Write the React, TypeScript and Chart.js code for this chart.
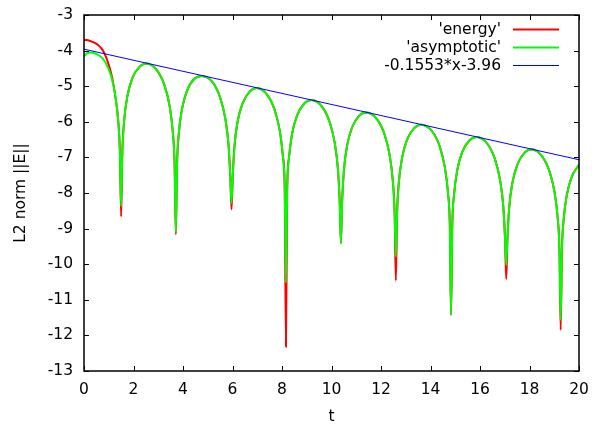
import React, { useEffect, useRef } from 'react';
import { Chart, registerables } from 'chart.js';

Chart.register(...registerables);

// time values (shared by both curves)
const tValues = [
  0, 0.12, 0.25, 0.45, 0.6, 0.75, 0.9, 1.05, 1.15, 1.25, 1.38, 1.45, 1.5,
  1.55, 1.62, 1.75, 1.95, 2.25, 2.525, 2.96, 3.26, 3.46, 3.59, 3.66, 3.71,
  3.76, 3.83, 3.96, 4.16, 4.46, 4.755, 5.21, 5.51, 5.71, 5.84, 5.91, 5.96,
  6.01, 6.08, 6.21, 6.41, 6.71, 6.98, 7.41, 7.71, 7.91, 8.04, 8.11, 8.16,
  8.21, 8.28, 8.41, 8.61, 8.91, 9.19, 9.63, 9.93, 10.13, 10.26, 10.33, 10.38,
  10.43, 10.5, 10.63, 10.83, 11.13, 11.41, 11.85, 12.15, 12.35, 12.48, 12.55, 12.6,
  12.65, 12.72, 12.85, 13.05, 13.35, 13.635, 14.08, 14.38, 14.58, 14.71, 14.78, 14.83,
  14.88, 14.95, 15.08, 15.28, 15.58, 15.865, 16.31, 16.61, 16.81, 16.94, 17.01, 17.06,
  17.11, 17.18, 17.31, 17.51, 17.81, 18.08, 18.51, 18.81, 19.01, 19.14, 19.21, 19.26,
  19.31, 19.38, 19.51, 19.71, 20,
];

// 'asymptotic' series
const asymptotic = [
  -4.16, -4.08, -4.05, -4.08, -4.13, -4.22, -4.38, -4.62, -4.86, -5.21, -5.95, -6.83, -8.37,
  -6.85, -5.99, -5.29, -4.78, -4.45, -4.36, -4.56, -4.99, -5.56, -6.30, -7.18, -9.10,
  -7.19, -6.33, -5.64, -5.13, -4.79, -4.71, -4.90, -5.34, -5.91, -6.65, -7.53, -8.28,
  -7.54, -6.68, -5.98, -5.48, -5.14, -5.05, -5.25, -5.68, -6.25, -6.99, -7.87, -10.52,
  -7.88, -7.02, -6.33, -5.82, -5.48, -5.39, -5.59, -6.02, -6.59, -7.33, -8.21, -9.41,
  -8.23, -7.37, -6.67, -6.16, -5.82, -5.74, -5.94, -6.37, -6.94, -7.68, -8.56, -9.79,
  -8.57, -7.71, -7.02, -6.51, -6.17, -6.08, -6.28, -6.71, -7.28, -8.02, -8.90, -11.43,
  -8.92, -8.06, -7.36, -6.85, -6.52, -6.43, -6.63, -7.06, -7.63, -8.37, -9.25, -10.02,
  -9.27, -8.41, -7.71, -7.20, -6.86, -6.77, -6.97, -7.40, -7.97, -8.71, -9.59, -11.57,
  -9.61, -8.75, -8.05, -7.54, -7.21,
];

// 'energy' series
const energy = [
  -3.70, -3.70, -3.73, -3.79, -3.86, -3.98, -4.20, -4.52, -4.80, -5.21, -5.95, -6.83, -8.66,
  -6.85, -5.99, -5.29, -4.78, -4.45, -4.36, -4.56, -4.99, -5.56, -6.30, -7.18, -9.16,
  -7.19, -6.33, -5.64, -5.13, -4.79, -4.71, -4.90, -5.34, -5.91, -6.65, -7.53, -8.46,
  -7.54, -6.68, -5.98, -5.48, -5.14, -5.05, -5.25, -5.68, -6.25, -6.99, -7.87, -12.32,
  -7.88, -7.02, -6.33, -5.82, -5.48, -5.39, -5.59, -6.02, -6.59, -7.33, -8.21, -9.41,
  -8.23, -7.37, -6.67, -6.16, -5.82, -5.74, -5.94, -6.37, -6.94, -7.68, -8.56, -10.46,
  -8.57, -7.71, -7.02, -6.51, -6.17, -6.08, -6.28, -6.71, -7.28, -8.02, -8.90, -11.43,
  -8.92, -8.06, -7.36, -6.85, -6.52, -6.43, -6.63, -7.06, -7.63, -8.37, -9.25, -10.42,
  -9.27, -8.41, -7.71, -7.20, -6.86, -6.77, -6.97, -7.40, -7.97, -8.71, -9.59, -11.85,
  -9.61, -8.75, -8.05, -7.54, -7.21,
];

// fitted line -0.1553*x-3.96
const fitX = [0, 20];
const fitY = [-3.96, -7.066];

const xTicks = [0, 2, 4, 6, 8, 10, 12, 14, 16, 18, 20];
const yTicks = [-3, -4, -5, -6, -7, -8, -9, -10, -11, -12, -13];

const legendLabels = ["'energy'", "'asymptotic'", '-0.1553*x-3.96'];
const legendColors = ['#ff0000', '#00ff00', '#0000ff'];
const legendWidths = [2, 2, 1];
const xTitle = 't';
const yTitle = 'L2 norm ||E||';

const FONT = '"DejaVu Sans", sans-serif';
const FS = 15.5;

const framePlugin = {
  id: 'gnuFrame',
  afterDraw(chart: any) {
    const { ctx, chartArea } = chart;
    const xs = chart.scales.x;
    const ys = chart.scales.y;
    const { left, right, top, bottom } = chartArea;
    ctx.save();
    ctx.strokeStyle = '#000';
    ctx.lineWidth = 1.5;
    ctx.strokeRect(left, top, right - left, bottom - top);
    ctx.lineWidth = 1;
    const tl = 5;
    ctx.beginPath();
    xTicks.forEach((v) => {
      const px = Math.round(xs.getPixelForValue(v)) + 0.5;
      ctx.moveTo(px, bottom);
      ctx.lineTo(px, bottom - tl);
      ctx.moveTo(px, top);
      ctx.lineTo(px, top + tl);
    });
    yTicks.forEach((v) => {
      const py = Math.round(ys.getPixelForValue(v)) + 0.5;
      ctx.moveTo(left, py);
      ctx.lineTo(left + tl, py);
      ctx.moveTo(right, py);
      ctx.lineTo(right - tl, py);
    });
    ctx.stroke();

    // legend
    ctx.font = `${FS}px ${FONT}`;
    ctx.fillStyle = '#000';
    ctx.textAlign = 'right';
    ctx.textBaseline = 'alphabetic';
    const rowY = [29.5, 47.5, 65.5];
    legendLabels.forEach((lab, i) => {
      ctx.fillText(lab, 501, rowY[i] + 4.5);
      ctx.strokeStyle = legendColors[i];
      ctx.lineWidth = legendWidths[i];
      ctx.beginPath();
      ctx.moveTo(513, rowY[i]);
      ctx.lineTo(559, rowY[i]);
      ctx.stroke();
    });

    // axis titles
    ctx.fillStyle = '#000';
    ctx.textAlign = 'center';
    ctx.fillText(xTitle, (left + right) / 2, 421);
    ctx.translate(25, (top + bottom) / 2);
    ctx.rotate(-Math.PI / 2);
    ctx.fillText(yTitle, 0, 0);
    ctx.restore();
  },
};

const zeroPad = (s: any) => {
  s.paddingTop = 0;
  s.paddingBottom = 0;
  s.paddingLeft = 0;
  s.paddingRight = 0;
};

export default function App() {
  const ref = useRef<HTMLCanvasElement | null>(null);
  useEffect(() => {
    if (!ref.current) return;
    const chart = new Chart(ref.current, {
      type: 'scatter',
      data: {
        datasets: [
          {
            label: legendLabels[2],
            data: fitX.map((x, i) => ({ x, y: fitY[i] })),
            borderColor: '#0000ff',
            borderWidth: 1,
            showLine: true,
            pointRadius: 0,
            order: 1,
          },
          {
            label: legendLabels[1],
            data: tValues.map((x, i) => ({ x, y: asymptotic[i] })),
            borderColor: '#00ff00',
            borderWidth: 2,
            showLine: true,
            pointRadius: 0,
            cubicInterpolationMode: 'monotone',
            order: 2,
          },
          {
            label: legendLabels[0],
            data: tValues.map((x, i) => ({ x, y: energy[i] })),
            borderColor: '#ff0000',
            borderWidth: 2,
            showLine: true,
            pointRadius: 0,
            cubicInterpolationMode: 'monotone',
            order: 3,
          },
        ],
      },
      options: {
        responsive: false,
        animation: false,
        devicePixelRatio: 1,
        layout: { padding: { top: 15, right: 15, left: 0, bottom: 0 } },
        plugins: { legend: { display: false }, tooltip: { enabled: false } },
        scales: {
          x: {
            type: 'linear',
            min: 0,
            max: 20,
            grid: { display: false, drawTicks: false },
            border: { display: false },
            afterBuildTicks: (s: any) => {
              s.ticks = xTicks.map((v) => ({ value: v }));
            },
            afterFit: (s: any) => {
              s.height = 53;
              zeroPad(s);
            },
            ticks: {
              color: '#000',
              font: { family: FONT, size: FS },
              padding: 10,
              maxRotation: 0,
              autoSkip: false,
            },
          },
          y: {
            type: 'linear',
            min: -13,
            max: -3,
            grid: { display: false, drawTicks: false },
            border: { display: false },
            afterBuildTicks: (s: any) => {
              s.ticks = yTicks.map((v) => ({ value: v }));
            },
            afterFit: (s: any) => {
              s.width = 84;
              zeroPad(s);
            },
            ticks: {
              color: '#000',
              font: { family: FONT, size: FS },
              padding: 11,
              autoSkip: false,
            },
          },
        },
      },
      plugins: [framePlugin],
    } as any);
    return () => chart.destroy();
  }, []);
  return (
    <div style={{ position: 'absolute', left: 0, top: 0, width: 594, height: 424, background: '#fff' }}>
      <canvas ref={ref} width={594} height={424} style={{ width: 594, height: 424, display: 'block' }} />
    </div>
  );
}
